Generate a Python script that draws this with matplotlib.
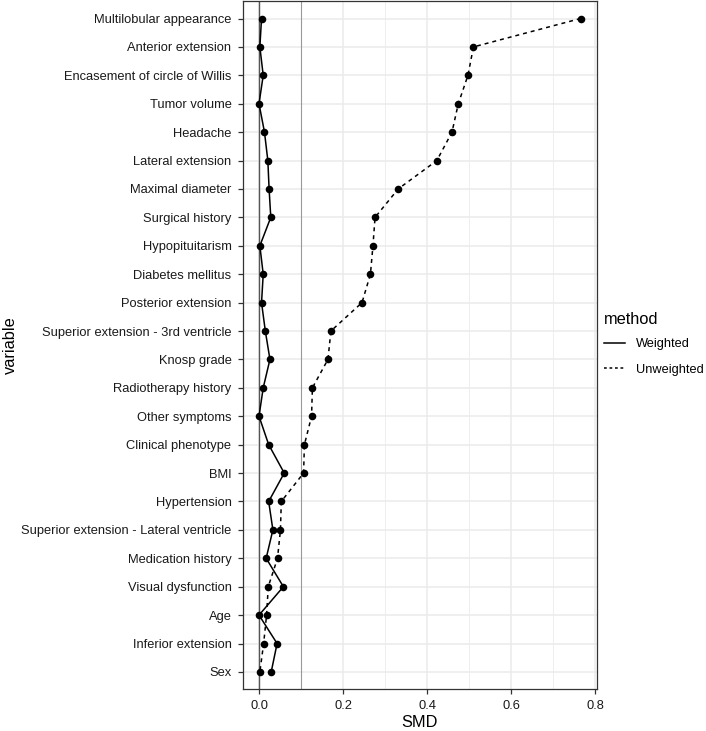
import matplotlib
matplotlib.use("Agg")
import matplotlib.pyplot as plt
from matplotlib.lines import Line2D
import numpy as np

plt.rcParams['font.family'] = ['Liberation Sans', 'DejaVu Sans']

variables = [
    "Multilobular appearance", "Anterior extension", "Encasement of circle of Willis",
    "Tumor volume", "Headache", "Lateral extension", "Maximal diameter",
    "Surgical history", "Hypopituitarism", "Diabetes mellitus", "Posterior extension",
    "Superior extension - 3rd ventricle", "Knosp grade", "Radiotherapy history",
    "Other symptoms", "Clinical phenotype", "BMI", "Hypertension",
    "Superior extension - Lateral ventricle", "Medication history",
    "Visual dysfunction", "Age", "Inferior extension", "Sex",
]
weighted = [0.006, 0.002, 0.010, 0.000, 0.013, 0.021, 0.024, 0.028, 0.002, 0.010,
            0.006, 0.015, 0.026, 0.010, 0.000, 0.023, 0.060, 0.023, 0.033, 0.017,
            0.058, 0.000, 0.043, 0.029]
unweighted = [0.765, 0.510, 0.497, 0.474, 0.459, 0.423, 0.331, 0.276, 0.271, 0.265,
              0.245, 0.171, 0.164, 0.127, 0.125, 0.108, 0.106, 0.053, 0.051, 0.044,
              0.022, 0.018, 0.011, 0.002]
methods = ["Weighted", "Unweighted"]
thresholds = [0.0, 0.1]
xticks = [0.0, 0.2, 0.4, 0.6, 0.8]

fig = plt.figure(figsize=(7.06, 7.31), dpi=100)
ax = fig.add_axes([0.3435, 0.0575, 0.8452 - 0.3435, 0.998 - 0.0575])

n = len(variables)
y = np.arange(n)

allv = np.array(weighted + unweighted)
lo, hi = allv.min(), allv.max()
pad = (hi - lo) * 0.05
ax.set_xlim(lo - pad - 0.001, hi + pad)
ax.set_ylim(n - 1 + 0.6, -0.6)
ax.set_xticks(xticks)
ax.set_xticks([0.1, 0.3, 0.5, 0.7], minor=True)
ax.set_yticks(y)
ax.set_yticklabels(variables)
ax.grid(True, which='major', color='#EBEBEB', linewidth=1.1, zorder=0)
ax.grid(True, which='minor', axis='x', color='#EBEBEB', linewidth=0.6, zorder=0)
ax.set_axisbelow(True)

ax.axvline(thresholds[0], color='#555555', linewidth=1.0, zorder=1)
ax.axvline(thresholds[1], color='#999999', linewidth=0.8, zorder=1)

dash = (0, (2.6, 2.6))
ax.plot(weighted, y, color='black', linewidth=1.1, linestyle='-', zorder=3)
ax.plot(unweighted, y, color='black', linewidth=1.1, linestyle=dash, zorder=3)
ax.scatter(weighted, y, s=30, color='black', zorder=4, linewidths=0)
ax.scatter(unweighted, y, s=30, color='black', zorder=4, linewidths=0)

for s in ax.spines.values():
    s.set_color('#333333')
    s.set_linewidth(0.9)

ax.tick_params(axis='both', which='major', labelsize=9.3, color='#333333',
               labelcolor='#1A1A1A', length=3.5, width=0.9, pad=4.5)
ax.tick_params(axis='both', which='minor', length=0)
ax.xaxis.set_major_formatter(matplotlib.ticker.FormatStrFormatter('%.1f'))

ax.set_xlabel("SMD", fontsize=11.8, labelpad=2)
fig.text(10 / 706, 1 - 345 / 731, "variable", rotation=90, ha='center', va='center',
         fontsize=11.8)

handles = [Line2D([], [], color='black', linewidth=1.1, linestyle='-'),
           Line2D([], [], color='black', linewidth=1.1, linestyle=(0, (1.8, 1.8)))]
leg = fig.legend(handles, methods, title="method", loc='center left',
                 bbox_to_anchor=(0.856, 1 - 344 / 731), frameon=False, fontsize=9.2,
                 title_fontsize=11.8, handlelength=1.65, handletextpad=0.85,
                 labelspacing=1.05, alignment='left', borderpad=0, borderaxespad=0)
leg._legend_box.sep = 8

fig.savefig("out.png", dpi=100)
